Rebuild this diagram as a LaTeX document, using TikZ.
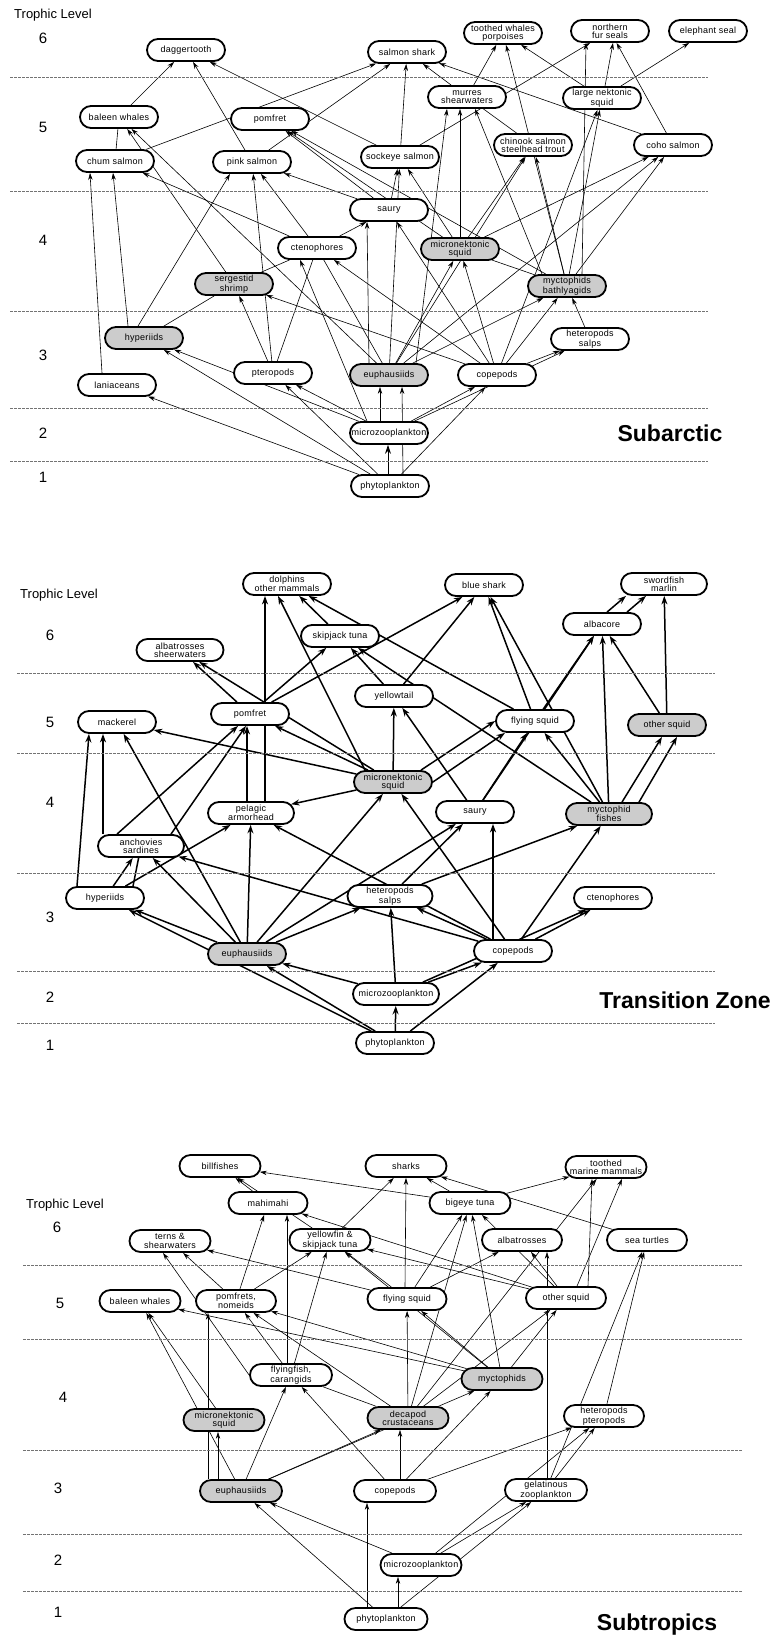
\documentclass[tikz,border=0pt]{standalone}
\usepackage{fontspec}
\setmainfont{Liberation Sans}
\newfontfamily\labelfont[LetterSpace=3]{Liberation Sans}
\usetikzlibrary{arrows.meta,backgrounds,shapes.misc}

\tikzset{
  sp/.style={draw, shape=rounded rectangle, line width=1.8pt, minimum width=80pt,
    minimum height=22pt, inner sep=1pt, align=center, fill=white,
    font=\labelfont\fontsize{9}{8.3}\selectfont},
  graysp/.style={sp, fill=black!20},
  eat/.style={-{Stealth[length=7pt,width=4.4pt]}, line width=0.6pt},
  eatbig/.style={-{Stealth[length=9pt,width=6pt]}, line width=0.7pt},
  eatthick/.style={-{Stealth[length=8.5pt,width=6pt]}, line width=1.5pt},
  plain/.style={line width=0.6pt},
  plainthick/.style={line width=1.5pt},
  levelline/.style={draw=black!55, line width=0.6pt, dash pattern=on 2.5pt off 1.5pt},
  lvl/.style={font=\fontsize{15}{15}\selectfont},
  trophic/.style={font=\fontsize{13}{13}\selectfont},
  zonelabel/.style={font=\fontsize{23}{23}\selectfont\bfseries}
}

\begin{document}
\begin{tikzpicture}[x=1pt,y=-1pt]
\useasboundingbox (0,0) rectangle (775,1640);

% ---------- Subarctic ----------
\node[trophic] (a-title) at (53,15) {Trophic Level};
\node[lvl] (a-6) at (43,38) {6};
\node[lvl] (a-5) at (43,127) {5};
\node[lvl] (a-4) at (43,240) {4};
\node[lvl] (a-3) at (43,355) {3};
\node[lvl] (a-2) at (43,433) {2};
\node[lvl] (a-1) at (43,477) {1};
\draw[levelline] (10,77) -- (708,77);
\draw[levelline] (10,191) -- (708,191);
\draw[levelline] (10,311) -- (708,311);
\draw[levelline] (10,408) -- (708,408);
\draw[levelline] (10,461) -- (708,461);
\node[zonelabel] (a-zone) at (670,433) {Subarctic};

\node[sp] (a-dagger) at (186,50) {daggertooth};
\node[sp] (a-shark) at (407,52) {salmon shark};
\node[sp] (a-tooth) at (503,33) {toothed whales\\porpoises};
\node[sp] (a-fur) at (610,31) {northern\\fur seals};
\node[sp] (a-eseal) at (708,31) {elephant seal};
\node[sp] (a-baleen) at (119,117) {baleen whales};
\node[sp] (a-pomfret) at (270,119) {pomfret};
\node[sp] (a-murre) at (467,97) {murres\\shearwaters};
\node[sp] (a-lsquid) at (602,98) {large nektonic\\squid};
\node[sp] (a-chum) at (115,161) {chum salmon};
\node[sp] (a-pink) at (252,162) {pink salmon};
\node[sp] (a-sockeye) at (400,157) {sockeye salmon};
\node[sp] (a-chinook) at (533,145) {chinook salmon\\steelhead trout};
\node[sp] (a-coho) at (673,145) {coho salmon};
\node[sp] (a-saury) at (389,210) {saury};
\node[sp] (a-cteno) at (317,248) {ctenophores};
\node[graysp] (a-msquid) at (460,249) {micronektonic\\squid};
\node[graysp] (a-serg) at (234,284) {sergestid\\shrimp};
\node[graysp] (a-mycto) at (567,286) {myctophids\\bathlyagids};
\node[graysp] (a-hyper) at (144,338) {hyperiids};
\node[sp] (a-hetero) at (590,339) {heteropods\\salps};
\node[sp] (a-lani) at (117,385) {laniaceans};
\node[sp] (a-ptero) at (273,373) {pteropods};
\node[graysp] (a-euph) at (389,375) {euphausiids};
\node[sp] (a-cope) at (497,375) {copepods};
\node[sp] (a-micro) at (389,433) {microzooplankton};
\node[sp] (a-phyto) at (390,486) {phytoplankton};

\begin{scope}[on background layer]
  \foreach \u/\v in {baleen/dagger, pink/dagger, sockeye/dagger, chum/shark, pink/shark,
      sockeye/shark, coho/shark, murre/shark, murre/tooth, mycto/tooth, lsquid/tooth,
      sockeye/fur, coho/fur, lsquid/eseal, serg/baleen, euph/baleen, msquid/pomfret,
      mycto/pomfret, saury/pomfret, cteno/chum, ptero/pink, cteno/pink, saury/pink,
      saury/sockeye, msquid/sockeye, euph/sockeye, cope/lsquid, mycto/lsquid,
      msquid/chinook, euph/chinook, mycto/chinook, msquid/coho, euph/coho, mycto/coho,
      cteno/saury, cope/saury, cope/cteno, euph/msquid, cope/msquid, ptero/serg,
      cope/serg, euph/mycto, cope/mycto, hetero/mycto, cope/hetero, micro/hetero,
      micro/hyper, phyto/hyper, phyto/lani, phyto/ptero, micro/ptero, micro/cope, phyto/cope}
    \draw[eat] (a-\u) -- (a-\v);
  \draw[eat] ([xshift=-16pt]a-hyper.north) -- ([xshift=-2pt]a-chum.south);
  \draw[eat] ([xshift=-15pt]a-lani.north) -- ([xshift=-25pt]a-chum.south);
  \draw[eat] ([xshift=-6pt]a-hyper.north) -- ([xshift=-22pt]a-pink.south);
  \draw[eat] (a-msquid.north) -- ([xshift=-7pt]a-murre.south);
  \draw[eat] ([xshift=27pt]a-euph.north) -- ([xshift=-20pt]a-murre.south);
  \draw[eat] ([xshift=-25pt]a-mycto.north) -- ([xshift=8pt]a-murre.south);
  \draw[eat] ([xshift=15pt]a-mycto.north) -- ([xshift=-24pt]a-fur.south);
  \draw[eat] ([xshift=3pt]a-lsquid.north) -- ([xshift=3pt]a-fur.south);
  \draw[eat] ([xshift=-20pt]a-euph.north) -- ([xshift=-22pt]a-saury.south);
  \draw[eat] ([xshift=-22pt]a-micro.north) -- ([xshift=-17pt]a-cteno.south);
  \draw[eat] ([xshift=-9pt]a-micro.north) -- ([xshift=-9pt]a-euph.south);
  \draw[eat] ([xshift=13pt]a-phyto.north) -- ([xshift=13pt]a-euph.south);
  \draw[eatbig] ([xshift=-2pt]a-phyto.north) -- ([xshift=-1pt]a-micro.south);
  \draw[plain] (a-chum) -- (a-baleen);
  \draw[plain] (a-murre) -- (a-chinook);
  \draw[plain] (a-euph) -- (a-cteno);
  \draw[plain] (a-ptero) -- (a-cteno);
  \draw[plain] (a-cteno) -- (a-serg);
  \draw[plain] (a-msquid) -- (a-mycto);
  \draw[plain] (a-serg) -- (a-hyper);
\end{scope}

% ---------- Transition Zone ----------
\node[trophic] (t-title) at (59,595) {Trophic Level};
\node[lvl] (t-6) at (50,635) {6};
\node[lvl] (t-5) at (50,722) {5};
\node[lvl] (t-4) at (50,802) {4};
\node[lvl] (t-3) at (50,917) {3};
\node[lvl] (t-2) at (50,997) {2};
\node[lvl] (t-1) at (50,1045) {1};
\draw[levelline] (17,673) -- (715,673);
\draw[levelline] (17,753) -- (715,753);
\draw[levelline] (17,873) -- (715,873);
\draw[levelline] (17,971) -- (715,971);
\draw[levelline] (17,1023) -- (715,1023);
\node[zonelabel] (t-zone) at (685,1000) {Transition Zone};

\node[sp, minimum width=90pt] (t-dolph) at (287,584) {dolphins\\other mammals};
\node[sp] (t-bshark) at (484,585) {blue shark};
\node[sp, minimum width=88pt] (t-sword) at (664,584) {swordfish\\marlin};
\node[sp] (t-skip) at (340,636) {skipjack tuna};
\node[sp, minimum width=89pt] (t-albat) at (180,650) {albatrosses\\sheerwaters};
\node[sp] (t-albac) at (602,624) {albacore};
\node[sp] (t-yellow) at (394,696) {yellowtail};
\node[sp] (t-pomfret) at (250,714) {pomfret};
\node[sp] (t-mack) at (117,722) {mackerel};
\node[sp] (t-fsquid) at (535,721) {flying squid};
\node[graysp] (t-osquid) at (667,725) {other squid};
\node[graysp] (t-msquid) at (393,782) {micronektonic\\squid};
\node[sp, minimum width=88pt] (t-armor) at (251,813) {pelagic\\armorhead};
\node[sp] (t-saury) at (475,812) {saury};
\node[graysp, minimum width=88pt] (t-mycto) at (609,814) {myctophid\\fishes};
\node[sp, minimum width=88pt] (t-anch) at (141,846) {anchovies\\sardines};
\node[sp] (t-hyper) at (105,898) {hyperiids};
\node[sp, minimum width=87pt] (t-hetero) at (390,896) {heteropods\\salps};
\node[sp] (t-cteno) at (613,898) {ctenophores};
\node[graysp] (t-euph) at (247,954) {euphausiids};
\node[sp] (t-cope) at (513,951) {copepods};
\node[sp, minimum width=88pt] (t-micro) at (396,994) {microzooplankton};
\node[sp] (t-phyto) at (395,1043) {phytoplankton};

\begin{scope}[on background layer]
  \foreach \u/\v in {skip/dolph, fsquid/dolph, pomfret/albat, msquid/albat, pomfret/skip,
      yellow/skip, mycto/skip, pomfret/bshark, yellow/bshark, fsquid/bshark, mycto/bshark,
      fsquid/albac, mycto/albac, osquid/albac, saury/albac, osquid/sword, msquid/mack,
      euph/mack, msquid/pomfret, msquid/yellow, saury/yellow, saury/fsquid, mycto/fsquid,
      hetero/mycto, cope/mycto, euph/saury, hetero/saury, euph/msquid, cope/msquid,
      msquid/armor, hyper/armor, euph/armor, cope/armor, hyper/anch, cope/anch, euph/anch,
      euph/hyper, phyto/hyper, micro/euph, phyto/euph, euph/hetero, micro/hetero,
      cope/hetero, micro/cope, phyto/cope, micro/cteno, cope/cteno, phyto/micro}
    \draw[eatthick] (t-\u) -- (t-\v);
  \draw[eatthick] ([xshift=15pt]t-pomfret.north) -- ([xshift=-22pt]t-dolph.south);
  \draw[eatthick] (t-msquid.north west) -- ([xshift=-9pt]t-dolph.south);
  \draw[eatthick] ([xshift=5pt]t-albac.north) -- ([xshift=-38pt]t-sword.south);
  \draw[eatthick] ([xshift=25pt]t-albac.north) -- ([xshift=-18pt]t-sword.south);
  \draw[eatthick] ([xshift=13pt]t-mycto.north) -- ([xshift=-5pt]t-osquid.south);
  \draw[eatthick] ([xshift=-2pt]t-mycto.north east) -- ([xshift=10pt]t-osquid.south);
  \draw[eatthick] (t-msquid.north east) -- (t-fsquid.west);
  \draw[eatthick] (t-msquid.east) -- ([xshift=-30pt]t-fsquid.south);
  \draw[eatthick] ([xshift=-28pt]t-hyper.north) -- ([xshift=-28pt]t-mack.south);
  \draw[eatthick] ([xshift=-38pt]t-anch.north) -- ([xshift=-14pt]t-mack.south);
  \draw[eatthick] ([xshift=-24pt]t-anch.north) -- ([xshift=-12pt]t-pomfret.south);
  \draw[eatthick] ([xshift=30pt]t-anch.north) -- ([xshift=-4pt]t-pomfret.south);
  \draw[eatthick] ([xshift=-4pt]t-armor.north) -- ([xshift=-3pt]t-pomfret.south);
  \draw[eatthick] ([xshift=-20pt]t-cope.north) -- ([xshift=18pt]t-saury.south);
  \draw[plainthick] ([xshift=15pt]t-pomfret.south) -- ([xshift=14pt]t-armor.north);
  \draw[plainthick] (t-anch) -- (t-hyper.north east);
\end{scope}

% ---------- Subtropics ----------
\node[trophic] (s-title) at (65,1205) {Trophic Level};
\node[lvl] (s-6) at (57,1227) {6};
\node[lvl] (s-5) at (60,1303) {5};
\node[lvl] (s-4) at (63,1397) {4};
\node[lvl] (s-3) at (58,1488) {3};
\node[lvl] (s-2) at (58,1560) {2};
\node[lvl] (s-1) at (58,1612) {1};
\draw[levelline] (23,1265) -- (742,1265);
\draw[levelline] (23,1339) -- (742,1339);
\draw[levelline] (23,1450) -- (742,1450);
\draw[levelline] (23,1534) -- (742,1534);
\draw[levelline] (23,1591) -- (742,1591);
\node[zonelabel] (s-zone) at (657,1625) {Subtropics};

\node[sp, minimum width=83pt] (s-bill) at (220,1166) {billfishes};
\node[sp, minimum width=83pt] (s-shark) at (406,1166) {sharks};
\node[sp, minimum width=83pt] (s-tooth) at (606,1167) {toothed\\marine mammals};
\node[sp, minimum width=81pt] (s-mahi) at (268,1203) {mahimahi};
\node[sp, minimum width=83pt] (s-bigeye) at (470,1203) {bigeye tuna};
\node[sp, minimum width=83pt] (s-tern) at (170,1241) {terns \&\\shearwaters};
\node[sp, minimum width=83pt] (s-yfin) at (330,1240) {yellowfin \&\\skipjack tuna};
\node[sp, minimum width=82pt] (s-albat) at (522,1240) {albatrosses};
\node[sp, minimum width=82pt] (s-turtle) at (647,1240) {sea turtles};
\node[sp, minimum width=83pt] (s-baleen) at (140,1301) {baleen whales};
\node[sp, minimum width=82pt] (s-pomfret) at (236,1301) {pomfrets,\\nomeids};
\node[sp, minimum width=81pt] (s-fsquid) at (407,1299) {flying squid};
\node[sp, minimum width=82pt] (s-osquid) at (566,1298) {other squid};
\node[sp, minimum width=84pt] (s-ffish) at (291,1375) {flyingfish,\\carangids};
\node[graysp, minimum width=83pt] (s-mycto) at (502,1379) {myctophids};
\node[graysp, minimum width=83pt] (s-msquid) at (224,1420) {micronektonic\\squid};
\node[graysp, minimum width=83pt] (s-decapod) at (408,1418) {decapod\\crustaceans};
\node[sp, minimum width=82pt] (s-hetero) at (604,1416) {heteropods\\pteropods};
\node[graysp, minimum width=84pt] (s-euph) at (241,1491) {euphausiids};
\node[sp, minimum width=84pt] (s-cope) at (395,1491) {copepods};
\node[sp, minimum width=84pt] (s-gel) at (546,1490) {gelatinous\\zooplankton};
\node[sp, minimum width=83pt] (s-micro) at (421,1565) {microzooplankton};
\node[sp, minimum width=85pt] (s-phyto) at (386,1619) {phytoplankton};

\begin{scope}[on background layer]
  \foreach \u/\v in {mahi/bill, yfin/bill, bigeye/bill, pomfret/mahi, osquid/mahi,
      pomfret/tern, fsquid/tern, pomfret/yfin, ffish/yfin, fsquid/yfin, osquid/yfin,
      mycto/yfin, yfin/shark, bigeye/shark, turtle/shark, msquid/baleen, euph/baleen,
      mycto/baleen, ffish/pomfret, mycto/pomfret, decapod/pomfret, fsquid/bigeye,
      decapod/bigeye, mycto/bigeye, osquid/bigeye, bigeye/tooth, decapod/tooth,
      fsquid/albat, osquid/albat, gel/turtle, hetero/turtle, decapod/fsquid, mycto/fsquid,
      decapod/osquid, mycto/osquid, euph/ffish, cope/ffish, euph/decapod, euph/mycto,
      cope/mycto, phyto/euph, micro/euph, cope/hetero, micro/hetero, gel/hetero,
      micro/gel, phyto/gel}
    \draw[eat] (s-\u) -- (s-\v);
  \draw[eat] (s-ffish.west) -- ([xshift=-7pt]s-tern.south);
  \draw[eat] ([xshift=-4pt]s-ffish.north) -- ([xshift=19pt]s-mahi.south);
  \draw[eat] ([xshift=-2pt]s-fsquid.north) -- (s-shark.south);
  \draw[eat] ([xshift=-33pt]s-euph.north) -- ([xshift=-28pt]s-pomfret.south);
  \draw[eat] ([xshift=-23pt]s-euph.north) -- ([xshift=-6pt]s-msquid.south);
  \draw[eat] ([xshift=22pt]s-osquid.north) -- ([xshift=-14pt]s-tooth.south);
  \draw[eat] ([xshift=11pt]s-osquid.north) -- ([xshift=16pt]s-tooth.south);
  \draw[eat] ([xshift=1pt]s-gel.north) -- ([xshift=25pt]s-albat.south);
  \draw[eat] ([xshift=5pt]s-cope.north) -- ([xshift=-8pt]s-decapod.south);
  \draw[eat] ([xshift=-19pt]s-phyto.north) -- ([xshift=-28pt]s-cope.south);
  \draw[eat] ([xshift=12pt]s-phyto.north) -- ([xshift=-23pt]s-micro.south);
  \draw[plain] (s-ffish) -- (s-decapod);
\end{scope}
\end{tikzpicture}
\end{document}
